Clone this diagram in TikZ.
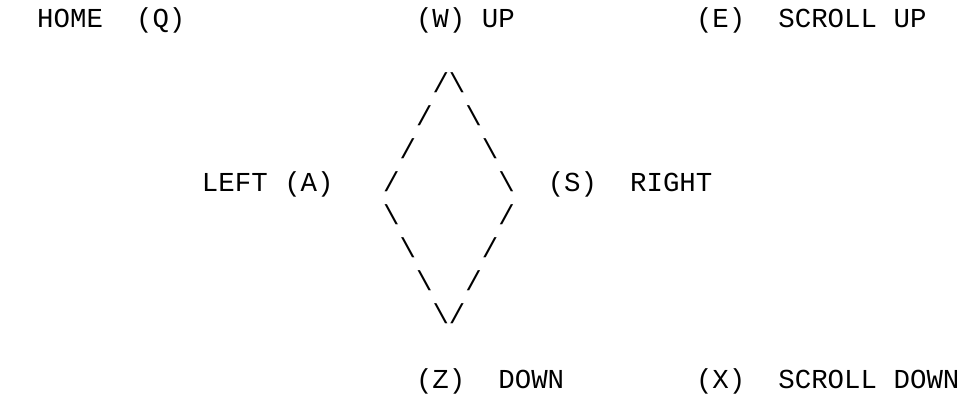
\documentclass[tikz,border=0pt]{standalone}
\usepackage{fontspec}
\newfontfamily\keyfont{Liberation Mono}
\tikzset{
  keytext/.style={font=\keyfont\fontsize{15.6}{18}\selectfont, inner sep=0pt, anchor=base west},
}
\begin{document}
\begin{tikzpicture}[x=0.3294cm, y=-0.658cm]
  \useasboundingbox (-23.74,-0.547) rectangle (34.49,11.40);
  % one column = one character cell, one row = one printed line
  \def\bl{0.274}% baseline below the middle of a line

  % Top line: home, up, scroll up
  \node[keytext] (home)     at (-21.5,0+\bl) {HOME};
  \node[keytext] (keyq)     at (-15.5,0+\bl) {(Q)};
  \node[keytext] (keyw)     at (1.5,0+\bl)   {(W)};
  \node[keytext] (up)       at (5.5,0+\bl)   {UP};
  \node[keytext] (keye)     at (18.5,0+\bl)  {(E)};
  \node[keytext] (scrollup) at (23.5,0+\bl)  {SCROLL};
  \node[keytext] (scrollupb) at (30.5,0+\bl) {UP};

  % Upper half of the diamond
  \foreach \r/\a/\b in {2/3/4, 3/2/5, 4/1/6, 5/0/7} {
    \node[keytext] (dl\r) at (\a-0.5,\r+\bl) {/};
    \node[keytext] (dr\r) at (\b-0.5,\r+\bl) {\textbackslash};
  }

  % Lower half of the diamond
  \foreach \r/\a/\b in {6/0/7, 7/1/6, 8/2/5, 9/3/4} {
    \node[keytext] (dl\r) at (\a-0.5,\r+\bl) {\textbackslash};
    \node[keytext] (dr\r) at (\b-0.5,\r+\bl) {/};
  }

  % Middle line: left and right
  \node[keytext] (left)  at (-11.5,5+\bl) {LEFT};
  \node[keytext] (keya)  at (-6.5,5+\bl)  {(A)};
  \node[keytext] (keys)  at (9.5,5+\bl)   {(S)};
  \node[keytext] (right) at (14.5,5+\bl)  {RIGHT};

  % Bottom line: down, scroll down
  \node[keytext] (keyz)       at (1.5,11+\bl)  {(Z)};
  \node[keytext] (down)       at (6.5,11+\bl)  {DOWN};
  \node[keytext] (keyx)       at (18.5,11+\bl) {(X)};
  \node[keytext] (scrolldown) at (23.5,11+\bl) {SCROLL};
  \node[keytext] (scrolldownb) at (30.5,11+\bl) {DOWN};
\end{tikzpicture}
\end{document}
